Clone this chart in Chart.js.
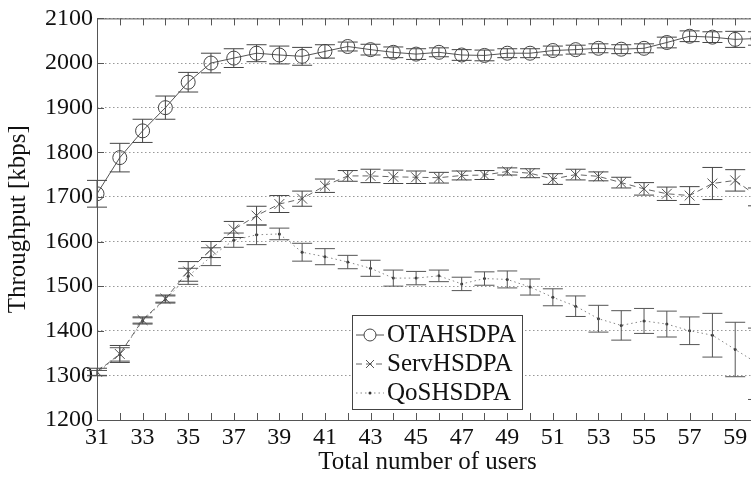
<!DOCTYPE html>
<html>
<head>
<meta charset="utf-8">
<script src="https://cdn.jsdelivr.net/npm/chart.js@4.4.0/dist/chart.umd.min.js"></script>
<style>
    html, body { margin: 0; padding: 0; background: #fff; overflow: hidden; }
    #wrap { width: 770px; height: 478px; }
</style>
</head>
<body>
<div id="wrap"><canvas id="throughputChart" width="770" height="478"></canvas></div>
<script>
// data
const users = [31, 32, 33, 34, 35, 36, 37, 38, 39, 40, 41, 42, 43, 44, 45,
    46, 47, 48, 49, 50, 51, 52, 53, 54, 55, 56, 57, 58, 59, 60];

const otaHsdpa = [1707, 1788, 1848, 1900, 1957, 2000, 2011, 2022, 2018, 2015, 2026, 2037, 2030, 2024, 2020,
    2024, 2018, 2017, 2022, 2022, 2028, 2030, 2033, 2031, 2033, 2046, 2060, 2058, 2053, 2055];
const otaErr = [30, 32, 26, 26, 22, 22, 21, 19, 20, 20, 15, 10, 12, 12, 12,
    10, 12, 12, 10, 10, 10, 10, 10, 10, 10, 12, 12, 12, 18, 15];

const servHsdpa = [1308, 1348, 1424, 1472, 1533, 1582, 1627, 1658, 1684, 1696, 1725, 1747, 1747, 1745, 1744,
    1743, 1748, 1749, 1757, 1753, 1740, 1750, 1746, 1732, 1718, 1707, 1703, 1730, 1737, 1700];
const servErr = [8, 19, 7, 8, 22, 18, 18, 21, 19, 17, 15, 12, 15, 15, 14,
    12, 10, 10, 8, 10, 12, 12, 10, 12, 14, 15, 20, 36, 24, 20];

const qosHsdpa = [1305, 1347, 1422, 1470, 1522, 1566, 1603, 1615, 1617, 1576, 1566, 1554, 1540, 1518, 1518,
    1523, 1505, 1517, 1515, 1498, 1475, 1455, 1427, 1412, 1422, 1415, 1400, 1390, 1358, 1326];
const qosErr = [6, 15, 7, 8, 18, 20, 16, 22, 13, 20, 18, 15, 18, 18, 15,
    13, 15, 15, 19, 18, 19, 23, 30, 33, 28, 29, 31, 49, 61, 80];

const yTicks = [1200, 1300, 1400, 1500, 1600, 1700, 1800, 1900, 2000, 2100];

const serif = "'Liberation Serif', 'DejaVu Serif', serif";

function toPoints(vals) {
    return users.map((u, i) => ({ x: u, y: vals[i] }));
}

// error bars, drawn with the chart's own scales
const errorBars = {
    id: "errorBars",
    afterDatasetsDraw(chart) {
        const ctx = chart.ctx;
        const yScale = chart.scales.y;
        ctx.save();
        chart.data.datasets.forEach((ds, i) => {
            const meta = chart.getDatasetMeta(i);
            ctx.strokeStyle = ds.errColor;
            ctx.lineWidth = 1;
            ctx.setLineDash([]);
            meta.data.forEach((pt, j) => {
                const v = ds.data[j].y;
                const e = ds.errors[j];
                const top = yScale.getPixelForValue(v + e);
                const bot = yScale.getPixelForValue(v - e);
                ctx.beginPath();
                ctx.moveTo(pt.x, top);
                ctx.lineTo(pt.x, bot);
                ctx.moveTo(pt.x - 10, top);
                ctx.lineTo(pt.x + 10, top);
                ctx.moveTo(pt.x - 10, bot);
                ctx.lineTo(pt.x + 10, bot);
                ctx.stroke();
            });
        });
        ctx.restore();
    },
};

// frame, inward tick marks and the boxed legend
const frameAndLegend = {
    id: "frameAndLegend",
    afterDraw(chart) {
        const ctx = chart.ctx;
        const a = chart.chartArea;
        const xs = chart.scales.x;
        const ys = chart.scales.y;
        ctx.save();
        ctx.strokeStyle = "#555";
        ctx.lineWidth = 1;
        ctx.setLineDash([]);
        ctx.strokeRect(a.left + 0.5, a.top + 0.5, a.right - a.left, a.bottom - a.top);
        ctx.beginPath();
        users.forEach((u) => {
            const x = Math.round(xs.getPixelForValue(u)) + 0.5;
            ctx.moveTo(x, a.bottom);
            ctx.lineTo(x, a.bottom - 7);
            ctx.moveTo(x, a.top);
            ctx.lineTo(x, a.top + 7);
        });
        yTicks.forEach((t) => {
            const y = Math.round(ys.getPixelForValue(t)) + 0.5;
            ctx.moveTo(a.left, y);
            ctx.lineTo(a.left + 7, y);
        });
        ctx.stroke();

        // legend box
        const bx = 352, by = 315, bw = 170, bh = 94;
        ctx.fillStyle = "#fff";
        ctx.fillRect(bx, by, bw, bh);
        ctx.strokeStyle = "#444";
        ctx.strokeRect(bx + 0.5, by + 0.5, bw, bh);
        ctx.font = "25px " + serif;
        ctx.textBaseline = "middle";
        ctx.textAlign = "left";
        chart.data.datasets.forEach((ds, i) => {
            const y = 335 + i * 29;
            ctx.strokeStyle = ds.borderColor;
            ctx.setLineDash(ds.borderDash || []);
            ctx.beginPath();
            ctx.moveTo(356, y);
            ctx.lineTo(384, y);
            ctx.stroke();
            ctx.setLineDash([]);
            ctx.strokeStyle = ds.pointBorderColor;
            ctx.beginPath();
            if (ds.pointStyle === "circle" && ds.pointRadius > 3) {
                ctx.fillStyle = "#fff";
                ctx.arc(370, y, 6, 0, Math.PI * 2);
                ctx.fill();
                ctx.stroke();
            } else if (ds.pointStyle === "crossRot") {
                ctx.moveTo(366, y - 4);
                ctx.lineTo(374, y + 4);
                ctx.moveTo(366, y + 4);
                ctx.lineTo(374, y - 4);
                ctx.stroke();
            } else {
                ctx.fillStyle = "#333";
                ctx.arc(370, y, 1.5, 0, Math.PI * 2);
                ctx.fill();
            }
            ctx.fillStyle = "#111";
            ctx.fillText(ds.label, 387, y);
        });
        ctx.restore();
    },
};

const ctx = document.getElementById("throughputChart").getContext("2d");
new Chart(ctx, {
    type: "line",
    data: {
        datasets: [
            {
                label: "OTAHSDPA",
                data: toPoints(otaHsdpa),
                errors: otaErr,
                errColor: "#444",
                borderColor: "#555",
                borderWidth: 1,
                pointStyle: "circle",
                pointRadius: 7,
                pointBorderColor: "#444",
                pointBackgroundColor: "rgba(0,0,0,0)",
                pointBorderWidth: 1,
                tension: 0,
            },
            {
                label: "ServHSDPA",
                data: toPoints(servHsdpa),
                errors: servErr,
                errColor: "#444",
                borderColor: "#666",
                borderWidth: 1,
                borderDash: [6, 4],
                pointStyle: "crossRot",
                pointRadius: 7,
                pointBorderColor: "#555",
                pointBorderWidth: 1,
                tension: 0,
            },
            {
                label: "QoSHSDPA",
                data: toPoints(qosHsdpa),
                errors: qosErr,
                errColor: "#555",
                borderColor: "#888",
                borderWidth: 1,
                borderDash: [1.5, 3],
                pointStyle: "circle",
                pointRadius: 1.5,
                pointBorderColor: "#333",
                pointBackgroundColor: "#333",
                pointBorderWidth: 0,
                tension: 0,
            },
        ],
    },
    options: {
        responsive: false,
        animation: false,
        layout: {
            padding: { top: 16, right: 12, left: 0, bottom: 0 },
        },
        plugins: {
            legend: { display: false },
            tooltip: { enabled: false },
        },
        scales: {
            x: {
                type: "linear",
                min: 31,
                max: 60,
                afterFit: (scale) => { scale.height = 58; },
                ticks: {
                    stepSize: 1,
                    autoSkip: false,
                    maxRotation: 0,
                    padding: 3,
                    color: "#111",
                    font: { family: serif, size: 24 },
                    callback: (v) => (v % 2 === 1 ? String(v) : ""),
                },
                grid: { display: false, drawTicks: false },
                border: { display: false },
                title: {
                    display: true,
                    text: "Total number of users",
                    color: "#111",
                    font: { family: serif, size: 25 },
                    padding: { top: 0, bottom: 1 },
                },
            },
            y: {
                min: 1200,
                max: 2100,
                afterFit: (scale) => { scale.width = 97; },
                afterBuildTicks: (scale) => {
                    scale.ticks = yTicks.map((v) => ({ value: v }));
                },
                ticks: {
                    padding: 4,
                    color: "#111",
                    font: { family: serif, size: 24 },
                    callback: (v) => String(v),
                },
                grid: { color: "#999", lineWidth: 1, drawTicks: false },
                border: { display: false, dash: [1.5, 2.5] },
                title: {
                    display: true,
                    text: "Throughput [kbps]",
                    color: "#111",
                    font: { family: serif, size: 25 },
                    padding: { top: 3, bottom: 0 },
                },
            },
        },
    },
    plugins: [errorBars, frameAndLegend],
});
</script>
</body>
</html>
